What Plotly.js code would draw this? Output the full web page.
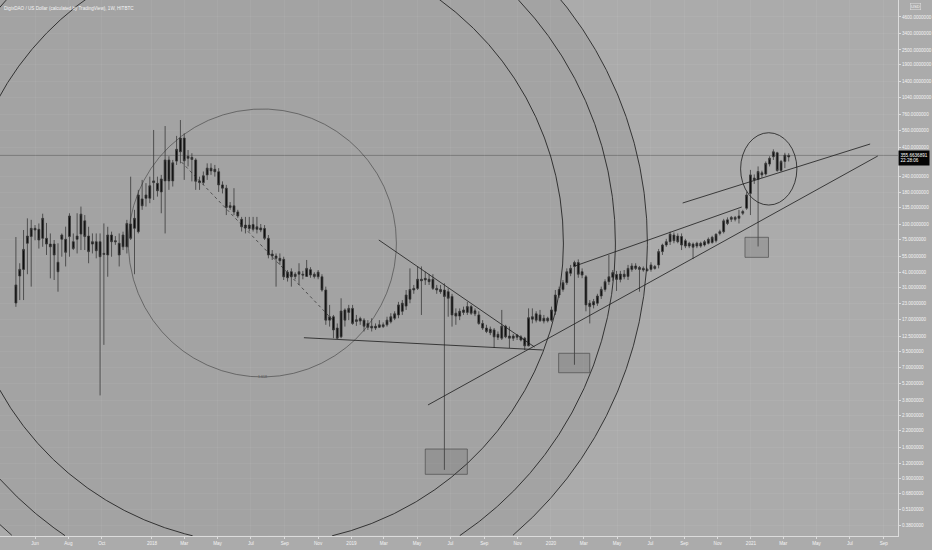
<!DOCTYPE html>
<html><head><meta charset="utf-8">
<script src="https://cdn.plot.ly/plotly-3.0.1.min.js"></script>
<style>html,body{margin:0;padding:0;background:#ababab;}#chart{width:932px;height:550px;}</style>
</head><body><div id="chart"></div>
<script>
// Weekly candles, DGD/USD (HitBTC), first bar week of 2017-04-27
const firstWeek = '2017-04-27';
const opens = [23.2,38.2,43.2,70,79.3,92.3,90.6,76.7,76.7,69,
 69,49.3,75.4,75.4,79.3,72.1,75.4,83,106,80,
 69,72.1,72.1,57,56.4,81.6,73.4,70,65.6,65.6,
 100,92.3,86.8,159,161,161,215,212,181,222,
 327,222,320,380,490,337,343,327,222,215,
 248,281,275,263,206,194,136,140,125,109,
 98,92,99,90.6,93,92,76.7,57.4,55.3,53,
 52,37,41.4,39.5,39.5,39.5,37.9,43,39.5,37.7,
 37.7,29.5,16.9,18,14.6,12.4,20.4,19.5,21,16.5,
 17.4,16.9,15.9,15.1,14.6,14.8,15.5,15.5,16.4,17.5,
 18.6,19.9,21.9,24.9,29.5,30.4,36,35.5,36,36,
 30.4,29.8,29.5,28.6,26.2,19.2,18.2,19.5,19.5,21.7,
 20.1,18.6,15.9,14.6,14.3,14.1,12.3,12.1,15.1,12.6,
 12.1,12.3,12.4,12.1,10.5,17.2,19,16.7,17.5,16.7,
 16.9,19.9,26.9,29.8,33.8,40.2,45.6,49,41.4,37.7,
 23.1,22.4,23.1,26.4,29.8,34.4,37.3,39.3,35.9,39.5,
 37.9,43.2,46,44.8,44,43.2,43.2,45.6,46.9,60,
 67.8,72.1,81.6,80,79.3,73.4,66.5,69,66.5,70,
 67.8,70,71,73.4,84,86.8,108,109,113,111,
 122,134,176,234,228,258,252,303,347,373,
 269,318,345.5];
const highs = [78.6,48.4,89.5,111,108,98,101,121,102,84,
 74.4,70,84,95.2,122,84,122,138,118,95,
 84,84,84,101,95,86.8,80,84,86.8,108,
 240,130,188,226,213,240,569,240,248,612,
 350,327,510,684,535,393,370,337,240,264,
 307,307,298,281,220,206,150,194,130,114,
 114,114,114,114,100,98,81.6,61.8,58,58,
 54.6,42.7,44,41,48.4,42,51.4,45,41,42.7,
 39.5,31.4,22.4,18.6,15.9,25.3,21,22.4,22.4,18.6,
 18,17.5,16.9,17.5,15.9,16.9,16.2,18,19.2,19.9,
 23.7,24.5,29.5,44,32.4,45.6,45.6,41.4,39.5,39.5,
 32.4,32.4,33.4,30.4,27.5,21,21,21.7,23.7,22.4,
 21,19.9,16.9,15.5,15,14.6,13.7,20.4,15.5,15,
 13.1,13.1,12.8,12.4,21,21,19.9,20.4,18.6,18,
 21.7,29.5,31.4,35.5,44,46.9,50.7,52,44,38.9,
 24.5,25,27.5,31.4,36,56.4,42.7,42,42,42.7,
 46.9,48.4,48.4,46,45.6,44.5,49.3,46.9,63,69.5,
 76,86.8,85.5,84,84,76,72,71,72,72,
 74.4,78,80.5,84,90,110,113,116,116,130,
 130,182,272,250,290,268,318,350,398,380,
 327,373,370];
const lows = [21.6,24.5,24.5,39.5,31.4,74,63.5,65.6,56.4,36.6,
 35.5,28.6,54.6,45.6,54.6,61.8,58,61.8,61.8,48.4,
 58,53,4.2,10.7,37.7,54.6,68,45.6,61.8,58,
 74.4,39.5,84,130,138,147,156,166,122,84,
 188,200,298,307,226,290,220,188,188,206,
 226,248,240,181,176,118,130,118,112,87,
 84,87,87,84,86,74.4,53,51.4,31.4,46.9,
 35.5,34.5,31.4,36,32.4,36,37.7,37,36.5,36,
 28.6,15.5,15,12.1,11.9,12.1,15,16.9,15.5,15.2,
 15.5,13.7,14.1,13.7,14.1,14.6,14.6,15,15.9,16.9,
 17.5,18.6,20.4,23.1,27.5,29.5,18.6,32.4,32.4,29.5,
 27.5,27.5,1.06,18,15,15.5,16.9,18.6,18.6,18.6,
 18.2,15.5,14.1,13.3,12.8,10.1,11.7,11.7,12.1,10.1,
 11.5,11.7,11.4,9.7,10.4,15.9,16.2,16.4,15.9,16.2,
 16.4,18.6,25.5,28.6,32.4,38.1,7.4,37,36.7,19.9,
 15.9,21,22,25,28.6,32.4,35,29,34,36,
 35.5,41.4,42.7,28.6,41.4,41.4,41.4,43,44,56.4,
 65.5,67.8,70,70,61.8,64,64,52.3,64,64.5,
 66,68.5,69.5,71,81,84,98,104,105,101,
 118,130,118,210,66,235,245,290,327,263,
 263,281,318];
const closes = [32.4,43.2,62.5,80,92.3,89.5,74.4,111,69,65.6,
 56.4,41.4,81.6,59.2,116,63.6,80,120,79.3,60,
 72.1,61,54.6,58,81.6,72.1,72.1,56.4,81.6,101,
 76.7,111,171,140,171,203,222,185,230,327,
 222,310,398,490,322,350,330,220,215,244,
 281,267,263,206,194,136,140,125,116,95,
 93,98,90.6,95,89.5,76.7,56.4,55.3,53,50.7,
 37.7,41,37.7,37.9,41.4,38.9,44,38.9,37.9,41,
 29.5,16.9,18,14.1,12.1,20,16.9,21,15.9,17,
 16.6,15.1,14.8,14.6,15.1,15.5,15,16.9,18,19,
 22.4,23.1,26.9,29.8,30.4,36,35,36.6,34.4,30.4,
 29.5,28.6,26.2,25.3,18.6,18.2,19.9,20.4,21.7,19.2,
 19,15.9,14.6,13.7,13.4,12.4,13,15.1,12.4,12.1,
 12.6,12.8,11.7,10.5,17.7,18,16.9,18.6,16.6,17.5,
 20.4,26.9,29.8,33.8,41.4,44,49,39.5,38.9,22.4,
 21.7,23.8,26.4,29.8,34.4,37.7,40.7,35.9,39.6,37.7,
 44,46,44,43.2,42.7,42.3,46.9,44,60,67.8,
 72.1,82.8,73.4,72.1,67.8,66.5,70,65.1,70,66.5,
 72.1,75.4,78.2,82.8,86.8,106,101,113,109,116,
 126,171,248,226,264,248,307,337,380,269,
 318,358,355.6636891];

// axis ticks (the 320 level sits behind the price label)
const priceTicks = [0.38,0.51,0.68,0.9,1.2,1.6,2.2,2.9,3.8,5.2,7,9.5,12.5,17,23,31,41,55,75,100,135,180,240,410,560,760,1040,1400,1900,2500,3400,4600];
const dateTicks = ['2017-06-01','2017-08-01','2017-10-01','2018-01-01','2018-03-01','2018-05-01','2018-07-01','2018-09-01','2018-11-01','2019-01-01','2019-03-01','2019-05-01','2019-07-01','2019-09-01','2019-11-01','2020-01-01','2020-03-01','2020-05-01','2020-07-01','2020-09-01','2020-11-01','2021-01-01','2021-03-01','2021-05-01','2021-07-01','2021-09-01'];
const dateTickText = ['Jun','Aug','Oct','2018','Mar','May','Jul','Sep','Nov','2019','Mar','May','Jul','Sep','Nov','2020','Mar','May','Jul','Sep','Nov','2021','Mar','May','Jul','Sep'];

// fib circles: one centre (time, price) and the level radii in screen pixels
const fibCenterDate = '2018-07-22';
const fibCenterPrice = 70.4;
const fibRadiiPx = [134, 301, 353, 385];
const fibLabel = '1.618';

// other drawings (time, price anchors)
const trendX0 = ['2019-02-20','2018-10-06','2019-05-21','2020-02-14','2020-08-29'];
const trendY0 = [74.4,12.21,3.52,46.0,147.5];
const trendX1 = ['2019-12-02','2019-12-17','2021-08-21','2020-12-15','2021-08-07'];
const trendY1 = [10.28,9.73,351.7,136.9,439];
const dottedX = ['2018-02-24','2018-11-28'];
const dottedY = [314.8,16.9];
const boxX0 = ['2019-05-16','2020-01-15','2020-12-21'];
const boxX1 = ['2019-08-01','2020-03-12','2021-02-02'];
const boxYLow = [0.976,6.39,54.0];
const boxYHigh = [1.558,9.15,78.2];
const ringX = ['2020-12-13','2021-03-26'];
const ringY = [142,541];

const W = 932, H = 550, M = {l:0, r:34, t:0, b:14, pad:0};
const xRange = ['2017-03-28 21:36','2021-09-27'];
const yRange = [-0.506, 3.7992];

const n = opens.length;
const DAY = 86400000;
const startMs = Date.parse(firstWeek + 'T00:00:00Z');
const dates = [];
for (let i = 0; i < n; i++) dates.push(new Date(startMs + i * 7 * DAY).toISOString().slice(0, 10));
const lastPrice = closes[n - 1];

// circles drawn as traces, cut at the bottom edge of the plot
const plotW = W - M.l - M.r, plotH = H - M.t - M.b;
const msPerPx = (Date.parse(xRange[1].replace(' ', 'T') + 'Z') - Date.parse(xRange[0].replace(' ', 'T') + 'Z')) / plotW;
const decPerPx = (yRange[1] - yRange[0]) / plotH;
const cMs = Date.parse(fibCenterDate + 'T00:00:00Z');
const cLog = Math.log10(fibCenterPrice);
const circleTraces = [];
fibRadiiPx.forEach((r, k) => {
  const xs = [], ys = [], fy = [];
  for (let a = 0; a <= 360; a += 0.2) {
    const t = a * Math.PI / 180;
    const lg = cLog + r * Math.sin(t) * decPerPx;
    xs.push(cMs + r * Math.cos(t) * msPerPx);
    ys.push(lg < yRange[0] + 0.0005 ? null : Math.pow(10, lg));
    fy.push(Math.pow(10, Math.max(lg, yRange[0])));
  }
  if (k === fibRadiiPx.length - 1) {
    circleTraces.push({type:'scatter', mode:'lines', x:xs, y:fy, hoverinfo:'skip', showlegend:false,
      line:{width:0, color:'rgba(0,0,0,0)'}, fill:'toself', fillcolor:'rgba(0,0,0,0.045)'});
  }
  circleTraces.push({type:'scatter', mode:'lines', x:xs, y:ys, connectgaps:false, hoverinfo:'skip', showlegend:false,
    line:{color: k === 0 ? 'rgba(50,50,50,0.75)' : 'rgba(25,25,25,0.9)', width: k === 0 ? 0.7 : 0.9}});
});

const shapes = [];
shapes.push({type:'line', xref:'paper', yref:'y', x0:0, x1:1, y0:lastPrice, y1:lastPrice, layer:'below',
  line:{color:'rgba(60,60,60,0.55)', width:0.7}});
for (let i = 0; i < trendX0.length; i++) {
  shapes.push({type:'line', xref:'x', yref:'y', x0:trendX0[i], y0:trendY0[i], x1:trendX1[i], y1:trendY1[i],
    line:{color:'rgba(30,30,30,0.9)', width:0.9}});
}
shapes.push({type:'line', xref:'x', yref:'y', x0:dottedX[0], y0:dottedY[0], x1:dottedX[1], y1:dottedY[1],
  line:{color:'rgba(40,40,40,0.85)', width:0.8, dash:'dot'}});
for (let i = 0; i < boxX0.length; i++) {
  shapes.push({type:'rect', xref:'x', yref:'y', x0:boxX0[i], x1:boxX1[i], y0:boxYLow[i], y1:boxYHigh[i],
    fillcolor:'rgba(60,60,60,0.14)', line:{color:'rgba(70,70,70,0.8)', width:0.8}});
}
shapes.push({type:'circle', xref:'x', yref:'y', x0:ringX[0], x1:ringX[1], y0:ringY[0], y1:ringY[1],
  line:{color:'rgba(30,30,30,0.9)', width:0.9}});

const txt = '#f4f4f4';
const fnt = 'Liberation Sans, Arial, sans-serif';
const layout = {
  width:W, height:H, margin:M,
  paper_bgcolor:'#ababab', plot_bgcolor:'#ababab',
  showlegend:false,
  font:{family:fnt, size:4.6, color:txt},
  xaxis:{type:'date', range:xRange, rangeslider:{visible:false},
    tickmode:'array', tickvals:dateTicks, ticktext:dateTickText,
    showgrid:true, gridcolor:'rgba(255,255,255,0.06)', gridwidth:1,
    showline:true, linecolor:'#dcdcdc', linewidth:1, ticks:'outside', ticklen:2, tickcolor:'#dcdcdc',
    tickfont:{family:fnt, size:4.6, color:txt}, zeroline:false, fixedrange:true},
  yaxis:{type:'log', side:'right', range:yRange,
    tickmode:'array', tickvals:priceTicks, tickformat:'.7f',
    showgrid:true, gridcolor:'rgba(255,255,255,0.06)', gridwidth:1,
    showline:true, linecolor:'#dcdcdc', linewidth:1, ticks:'outside', ticklen:2, tickcolor:'#dcdcdc',
    tickfont:{family:fnt, size:4.6, color:txt}, zeroline:false, fixedrange:true},
  shapes: shapes,
  annotations:[
    {xref:'paper', yref:'paper', x:0, y:1, xanchor:'left', yanchor:'top', xshift:2, yshift:-4, showarrow:false,
     text:'DigixDAO / US Dollar (calculated by TradingView), 1W, HITBTC', font:{family:fnt, size:4.6, color:txt}},
    {xref:'paper', yref:'y', x:1, y:Math.log10(lastPrice), xanchor:'left', yanchor:'middle', xshift:0, yshift:-3, showarrow:false,
     text:lastPrice.toFixed(7) + '<br>22:28:06', bgcolor:'#050505', borderpad:1.5, align:'left',
     font:{family:fnt, size:4.6, color:'#ffffff'}},
    {xref:'paper', yref:'paper', x:1, y:1, xanchor:'left', yanchor:'top', xshift:12, yshift:-3, showarrow:false,
     text:'USD', bordercolor:'#e0e0e0', borderwidth:0.5, borderpad:0.5, font:{family:fnt, size:4.2, color:txt}},
    {xref:'x', yref:'y', x:fibCenterDate, y:cLog - fibRadiiPx[0] * decPerPx, showarrow:false, text:fibLabel,
     font:{family:fnt, size:3.6, color:'#555555'}}
  ]
};

const candles = {type:'candlestick', x:dates, open:opens, high:highs, low:lows, close:closes,
  increasing:{line:{color:'#3c3c3c', width:0.8}, fillcolor:'#0c0c0c'},
  decreasing:{line:{color:'#3c3c3c', width:0.8}, fillcolor:'#0c0c0c'},
  whiskerwidth:0, hoverinfo:'skip', showlegend:false};

Plotly.newPlot('chart', circleTraces.concat([candles]), layout, {staticPlot:true, displayModeBar:false});
</script>
</body></html>
